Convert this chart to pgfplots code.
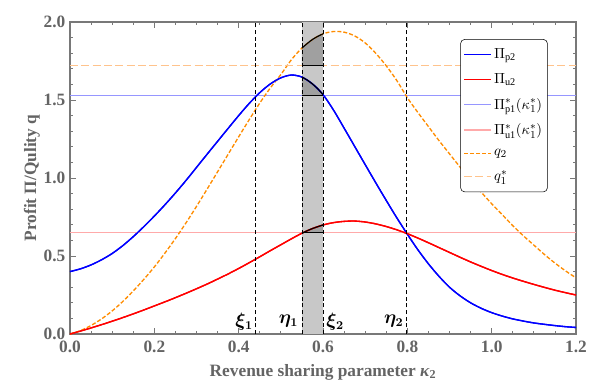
\documentclass[border=0pt]{standalone}
\usepackage{pgfplots}
\usepackage{pgfplotstable}
\usepackage{fontspec}
\pgfplotsset{compat=1.18}
\setmainfont{Liberation Serif}
% grey label font: colour set by the font itself
\newfontfamily\labfont[Color=646464]{Liberation Serif}

\definecolor{cPp}{RGB}{0,0,255}
\definecolor{cPu}{RGB}{255,0,0}
\definecolor{cPpStar}{RGB}{150,150,255}
\definecolor{cPuStar}{RGB}{255,170,170}
\definecolor{cQ}{RGB}{255,140,0}
\definecolor{cQStar}{RGB}{255,195,140}
\definecolor{bandgray}{RGB}{200,200,200}
\definecolor{dgray}{RGB}{160,160,160}
\definecolor{framegray}{RGB}{120,120,120}

% kappa2, Pi_p2, Pi_u2, q2
\pgfplotstableread{
x      pp     pu     q
0.000  0.400  0.000  0.000
0.025  0.418  0.019  0.022
0.050  0.443  0.039  0.055
0.075  0.476  0.060  0.097
0.100  0.516  0.082  0.148
0.125  0.566  0.105  0.208
0.150  0.624  0.129  0.276
0.175  0.688  0.154  0.350
0.200  0.756  0.180  0.430
0.225  0.828  0.206  0.518
0.250  0.904  0.233  0.612
0.275  0.984  0.261  0.712
0.300  1.068  0.290  0.818
0.325  1.152  0.320  0.928
0.350  1.235  0.352  1.040
0.375  1.318  0.385  1.152
0.400  1.400  0.420  1.264
0.425  1.478  0.457  1.374
0.450  1.547  0.495  1.480
0.475  1.603  0.534  1.577
0.500  1.642  0.572  1.663
0.525  1.660  0.610  1.758
0.550  1.647  0.646  1.833
0.575  1.603  0.676  1.888
0.600  1.535  0.699  1.924
0.625  1.435  0.714  1.939
0.650  1.320  0.722  1.935
0.675  1.203  0.724  1.911
0.700  1.086  0.718  1.866
0.725  0.970  0.706  1.800
0.750  0.856  0.689  1.719
0.775  0.745  0.668  1.625
0.800  0.640  0.643  1.515
0.825  0.540  0.615  1.420
0.850  0.450  0.585  1.330
0.875  0.370  0.554  1.240
0.900  0.300  0.523  1.155
0.925  0.245  0.492  1.070
0.950  0.200  0.462  0.990
0.975  0.165  0.434  0.910
1.000  0.137  0.407  0.835
1.025  0.115  0.382  0.765
1.050  0.097  0.359  0.695
1.075  0.083  0.338  0.630
1.100  0.071  0.318  0.570
1.125  0.062  0.299  0.510
1.150  0.054  0.281  0.455
1.175  0.047  0.265  0.405
1.200  0.042  0.250  0.360
}\curves

% the three curves inside the band eta1..xi2, finer reading
\pgfplotstableread{
x       pp     pu     q
0.5500  1.647  0.646  1.833
0.5625  1.628  0.662  1.862
0.5750  1.603  0.676  1.888
0.5875  1.572  0.688  1.908
0.6000  1.535  0.699  1.924
}\band

\begin{document}
\begin{tikzpicture}
\begin{axis}[
    width=379.5pt, height=234pt, scale only axis,
    xmin=0, xmax=1.2, ymin=0, ymax=2,
    xtick={0,0.2,...,1.2}, ytick={0,0.5,...,2},
    minor x tick num=3, minor y tick num=4,
    tick align=inside,
    major tick length=4.5pt, minor tick length=2.5pt,
    axis line style={framegray, line width=0.8pt},
    every tick/.style={framegray, line width=0.6pt},
    /pgf/number format/assume math mode=true,
    xticklabel style={yshift=-1.5pt, /pgf/number format/.cd, fixed, fixed zerofill, precision=1},
    yticklabel style={/pgf/number format/.cd, fixed, fixed zerofill, precision=1},
    tick label style={font=\labfont\bfseries\fontsize{13}{14}\selectfont},
    label style={font=\labfont\bfseries\fontsize{13}{15}\selectfont},
    xlabel={Revenue sharing parameter \textit{κ}\textsubscript{2}},
    ylabel={Profit Π/Qulity q},
    xlabel style={yshift=-2pt},
    ylabel style={yshift=-4pt},
    legend style={at={(0.944,0.945)}, anchor=north east, draw=black,
        rounded corners=3pt, fill=white, font=\fontsize{11}{13}\selectfont,
        row sep=5.5pt, inner xsep=2pt, inner ysep=5pt},
    legend cell align=left,
    legend image code/.code={\draw[#1] (0pt,0pt) -- (20pt,0pt);},
]
% shaded band between eta1 and xi2
\addplot[fill=bandgray, draw=none, forget plot]
    coordinates {(0.55,2) (0.6,2)} \closedcycle;

% dark areas between the curves and the benchmark levels inside the band
\addplot[fill=dgray, draw=none, forget plot] table[x=x, y=pp] {\band}
    -- (axis cs:0.6,1.53) -- (axis cs:0.55,1.53) -- cycle;
\addplot[fill=dgray, draw=none, forget plot] table[x=x, y=pu] {\band}
    -- (axis cs:0.6,0.65) -- (axis cs:0.55,0.65) -- cycle;
\addplot[fill=dgray, draw=none, forget plot] table[x=x, y=q] {\band}
    -- (axis cs:0.6,1.72) -- (axis cs:0.55,1.72) -- cycle;

% curves and benchmark levels, in legend order
\addplot[cPp, line width=1pt, smooth] table[x=x, y=pp] {\curves};
\addlegendentry{$\Pi_{\mathrm{p2}}$}
\addplot[cPu, line width=1pt, smooth] table[x=x, y=pu] {\curves};
\addlegendentry{$\Pi_{\mathrm{u2}}$}
\addplot[cPpStar, line width=1.1pt] coordinates {(0,1.53) (1.2,1.53)};
\addlegendentry{$\Pi^{*}_{\mathrm{p1}}(\kappa^{*}_{1})$}
\addplot[cPuStar, line width=1.1pt] coordinates {(0,0.65) (1.2,0.65)};
\addlegendentry{$\Pi^{*}_{\mathrm{u1}}(\kappa^{*}_{1})$}
\addplot[cQ, line width=1pt, smooth, dash pattern=on 3pt off 1.5pt] table[x=x, y=q] {\curves};
\addlegendentry{$q_2$}
\addplot[cQStar, line width=0.9pt, dash pattern=on 6pt off 2.5pt] coordinates {(0,1.72) (1.2,1.72)};
\addlegendentry{$q^{*}_{1}$}

% redraw the main curves above the benchmark levels
\addplot[cPp, line width=1pt, smooth, forget plot] table[x=x, y=pp] {\curves};
\addplot[cPu, line width=1pt, smooth, forget plot] table[x=x, y=pu] {\curves};

% black edges inside the band
\addplot[black, line width=0.9pt, smooth, forget plot] table[x=x, y=pp] {\band};
\addplot[black, line width=0.9pt, smooth, forget plot] table[x=x, y=pu] {\band};
\addplot[black, line width=0.9pt, smooth, forget plot] table[x=x, y=q] {\band};
\addplot[black, line width=0.9pt, forget plot] coordinates {(0.55,1.53) (0.6,1.53)};
\addplot[black, line width=0.9pt, forget plot] coordinates {(0.55,0.65) (0.6,0.65)};
\addplot[black, line width=0.9pt, forget plot] coordinates {(0.55,1.72) (0.6,1.72)};

% thresholds
\addplot[black, densely dashed, line width=0.5pt, forget plot] coordinates {(0.44,0) (0.44,2)};
\addplot[black, densely dashed, line width=0.5pt, forget plot] coordinates {(0.55,0) (0.55,2)};
\addplot[black, densely dashed, line width=0.5pt, forget plot] coordinates {(0.6,0) (0.6,2)};
\addplot[black, densely dashed, line width=0.5pt, forget plot] coordinates {(0.797,0) (0.797,2)};

\node[font=\fontsize{13.5}{14}\selectfont\boldmath] at (axis cs:0.413,0.08) {$\xi_1$};
\node[font=\fontsize{13.5}{14}\selectfont\boldmath] at (axis cs:0.518,0.08) {$\eta_1$};
\node[font=\fontsize{13.5}{14}\selectfont\boldmath] at (axis cs:0.629,0.08) {$\xi_2$};
\node[font=\fontsize{13.5}{14}\selectfont\boldmath] at (axis cs:0.768,0.08) {$\eta_2$};
\end{axis}
\path (current axis.south west) ++(-52.5pt,-39.75pt) (current axis.north east) ++(18.75pt,16.5pt);
\end{tikzpicture}
\end{document}
